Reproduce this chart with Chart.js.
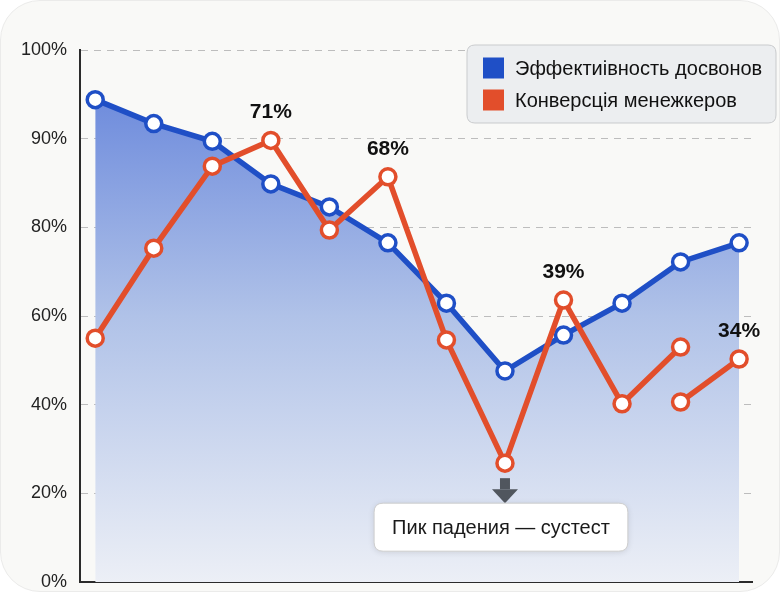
<!DOCTYPE html>
<html>
<head>
<meta charset="utf-8">
<script src="https://cdn.jsdelivr.net/npm/chart.js@4.4.1/dist/chart.umd.min.js"></script>
<style>
  html, body { margin: 0; padding: 0; background: #ffffff; }
  .card { position: absolute; left: 0; top: 0; width: 778px; height: 590px; border-radius: 40px;
          background: #f9f9f7; border: 1px solid #ebebea; }
  #wrap { position: absolute; left: 0; top: 0; width: 780px; height: 592px; }
</style>
</head>
<body>
<div class="card"></div>
<div id="wrap"><canvas id="c" width="780" height="592"></canvas></div>
<script>
// ---- data ----
const seriesNames = ['Эффектиівность досвонов', 'Конверсція менежкеров'];
const yTickValues = [0, 20, 40, 60, 80, 90, 100];
const blueX = [0, 1, 2, 3, 4, 5, 6, 7, 8, 9, 10, 11];
const blueY = [94.4, 91.7, 89.7, 84.9, 82.3, 76.5, 62.9, 47.6, 55.7, 62.9, 72.2, 76.5];
const redX = [0, 1, 2, 3, 4, 5, 6, 7, 8, 9, 10, 10, 10, 11];
const redY = [55.0, 75.3, 86.9, 89.8, 79.4, 85.7, 54.6, 26.8, 63.6, 40.2, 53.0, null, 40.6, 50.3];
const peakIndex = [3, 5, 8, 13];
const peakLabels = ['71%', '68%', '39%', '34%'];
const dropIndex = 7;
const dropLabel = 'Пик падения — сустест';

const BLUE = '#1f4fc6';
const RED = '#e24e2b';
const FONT = "'Liberation Sans', Arial, sans-serif";

// Piecewise axis: tick values equally spaced
class StepScale extends Chart.LinearScale {
  buildTicks() { return yTickValues.map(v => ({ value: v })); }
  _frac(v) {
    const t = yTickValues, n = t.length - 1;
    if (v <= t[0]) return 0;
    if (v >= t[n]) return 1;
    for (let i = 0; i < n; i++) {
      if (v <= t[i + 1]) return (i + (v - t[i]) / (t[i + 1] - t[i])) / n;
    }
    return 1;
  }
  getPixelForValue(v) { return this.getPixelForDecimal(this._frac(v)); }
  getValueForPixel(p) {
    const t = yTickValues, n = t.length - 1;
    const d = Math.max(0, Math.min(n, this.getDecimalForPixel(p) * n));
    const i = Math.min(Math.floor(d), n - 1);
    return t[i] + (d - i) * (t[i + 1] - t[i]);
  }
}
StepScale.id = 'step';
StepScale.defaults = Chart.LinearScale.defaults;
Chart.register(StepScale);

const toPoints = (xs, ys) => xs.map((x, i) => ({ x: x, y: ys[i] }));

function roundRect(ctx, x, y, w, h, r) {
  ctx.beginPath();
  ctx.moveTo(x + r, y);
  ctx.lineTo(x + w - r, y);
  ctx.quadraticCurveTo(x + w, y, x + w, y + r);
  ctx.lineTo(x + w, y + h - r);
  ctx.quadraticCurveTo(x + w, y + h, x + w - r, y + h);
  ctx.lineTo(x + r, y + h);
  ctx.quadraticCurveTo(x, y + h, x, y + h - r);
  ctx.lineTo(x, y + r);
  ctx.quadraticCurveTo(x, y, x + r, y);
  ctx.closePath();
}

const overlay = {
  id: 'overlay',
  afterDatasetsDraw(chart) {
    const ctx = chart.ctx;
    const red = chart.getDatasetMeta(1).data;
    // peak labels
    ctx.save();
    ctx.fillStyle = '#111';
    ctx.font = 'bold 21px ' + FONT;
    ctx.textAlign = 'center';
    ctx.textBaseline = 'middle';
    peakIndex.forEach((idx, k) => {
      const p = red[idx];
      ctx.fillText(peakLabels[k], p.x, p.y - 28);
    });
    ctx.restore();

    // drop callout
    const d = red[dropIndex];
    ctx.save();
    ctx.fillStyle = '#50565e';
    const ax = d.x, ay = d.y + 15;
    ctx.fillRect(ax - 5, ay, 10, 11);
    ctx.beginPath();
    ctx.moveTo(ax - 13, ay + 11);
    ctx.lineTo(ax + 13, ay + 11);
    ctx.lineTo(ax, ay + 25);
    ctx.closePath();
    ctx.fill();
    ctx.restore();

    ctx.save();
    ctx.font = '20px ' + FONT;
    const tw = ctx.measureText(dropLabel).width;
    const bw = tw + 36, bh = 48;
    const bx = d.x - 4 - bw / 2, by = d.y + 40;
    ctx.shadowColor = 'rgba(0,0,0,0.12)';
    ctx.shadowBlur = 6;
    ctx.shadowOffsetY = 1;
    roundRect(ctx, bx, by, bw, bh, 9);
    ctx.fillStyle = '#ffffff';
    ctx.fill();
    ctx.shadowColor = 'transparent';
    ctx.strokeStyle = '#cfcfcf';
    ctx.lineWidth = 1;
    ctx.stroke();
    ctx.fillStyle = '#1a1a1a';
    ctx.textAlign = 'center';
    ctx.textBaseline = 'middle';
    ctx.fillText(dropLabel, bx + bw / 2, by + bh / 2 + 1);
    ctx.restore();

    // legend box
    ctx.save();
    const lx = 467, ly = 45, lw = 309, lh = 78;
    roundRect(ctx, lx, ly, lw, lh, 8);
    ctx.fillStyle = '#eceef0';
    ctx.fill();
    ctx.strokeStyle = '#c9cbcd';
    ctx.lineWidth = 1;
    ctx.stroke();
    ctx.font = '20px ' + FONT;
    ctx.textBaseline = 'middle';
    ctx.textAlign = 'left';
    chart.data.datasets.forEach((ds, i) => {
      const cy = ly + 23 + i * 32;
      ctx.fillStyle = ds.borderColor;
      ctx.fillRect(lx + 16, cy - 10.5, 21, 21);
      ctx.fillStyle = '#111';
      ctx.fillText(ds.label, lx + 48, cy + 1);
    });
    ctx.restore();
  }
};

new Chart(document.getElementById('c'), {
  type: 'line',
  data: {
    datasets: [
      {
        label: seriesNames[0],
        data: toPoints(blueX, blueY),
        borderColor: BLUE,
        borderWidth: 5.5,
        pointRadius: 8,
        pointBorderWidth: 3.5,
        pointBackgroundColor: '#ffffff',
        pointBorderColor: BLUE,
        tension: 0,
        order: 2,
        fill: 'start',
        backgroundColor: (c) => {
          const a = c.chart.chartArea;
          if (!a) return 'rgba(120,150,225,0.6)';
          const g = c.chart.ctx.createLinearGradient(0, a.top, 0, a.bottom);
          g.addColorStop(0, 'rgb(96,128,218)');
          g.addColorStop(0.5, 'rgb(176,194,232)');
          g.addColorStop(1, 'rgb(236,239,246)');
          return g;
        }
      },
      {
        label: seriesNames[1],
        data: toPoints(redX, redY),
        borderColor: RED,
        borderWidth: 5.5,
        pointRadius: 8,
        pointBorderWidth: 3.5,
        pointBackgroundColor: '#ffffff',
        pointBorderColor: RED,
        tension: 0,
        order: 1,
        fill: false,
        spanGaps: false
      }
    ]
  },
  options: {
    responsive: false,
    animation: false,
    layout: { autoPadding: false, padding: { top: 50, right: 28, bottom: 10, left: 0 } },
    plugins: { legend: { display: false }, tooltip: { enabled: false } },
    scales: {
      x: {
        type: 'linear',
        min: -0.26,
        max: 11.22,
        ticks: { display: false },
        grid: { display: false, drawTicks: false },
        border: { display: true, color: '#2b2b2b', width: 2 },
        afterFit: (s) => { s.height = 0; }
      },
      y: {
        type: 'step',
        min: 0,
        max: 100,
        ticks: {
          padding: 13,
          color: '#222',
          font: { family: FONT, size: 18 },
          callback: (v) => v + '%'
        },
        grid: { color: '#bdbdbd', lineWidth: 1, drawTicks: false },
        border: { display: true, color: '#2b2b2b', width: 2, dash: [7, 6] },
        afterFit: (s) => { s.width = 80; s.paddingTop = 0; s.paddingBottom = 0; }
      }
    }
  },
  plugins: [overlay]
});
</script>
</body>
</html>
